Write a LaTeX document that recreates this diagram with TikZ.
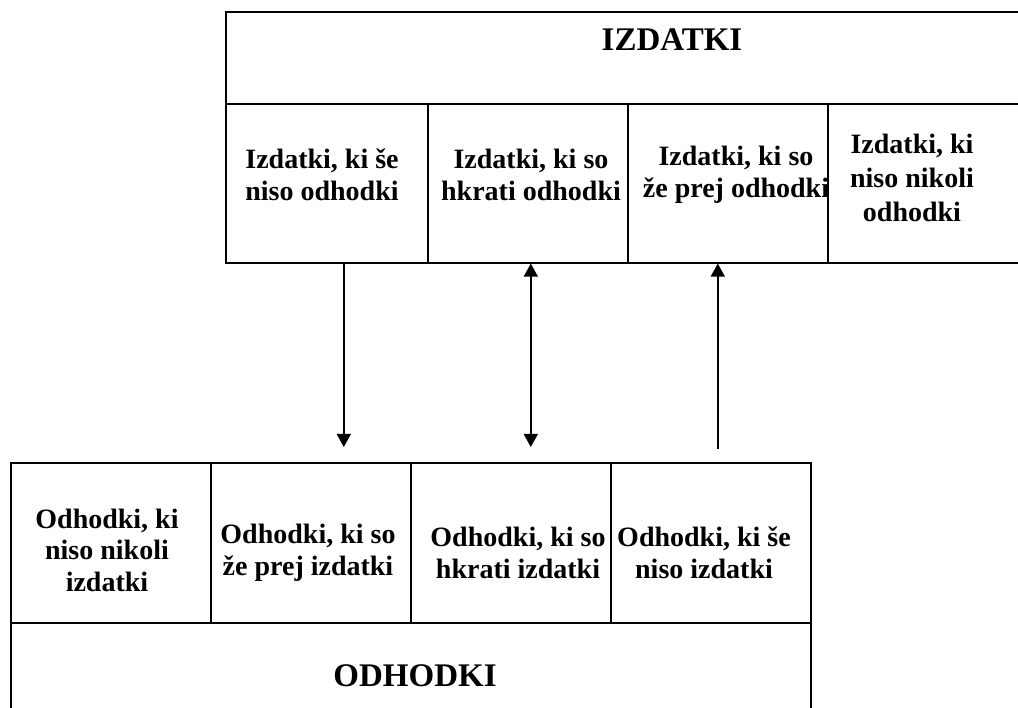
\documentclass[tikz,border=0pt]{standalone}
\usepackage{fontspec}
\setmainfont{Liberation Serif}
\usetikzlibrary{arrows.meta}
\begin{document}
\begin{tikzpicture}[x=1pt,y=-1pt,
  box/.style={draw, line width=1.6pt, inner sep=0pt, anchor=north west},
  celltext/.style={font=\fontsize{28}{31.5}\selectfont\bfseries, align=center, inner sep=0pt},
  headtext/.style={font=\fontsize{33}{38}\selectfont\bfseries, inner sep=0pt},
  arr/.style={line width=1.6pt, -{Triangle[width=14pt,length=13pt]}},
  darr/.style={line width=1.6pt, {Triangle[width=14pt,length=13pt]}-{Triangle[width=14pt,length=13pt]}}
]
\useasboundingbox (0,0) rectangle (1018,708);
\clip (0,0) rectangle (1018,708);
% top block
\node[box, minimum width=896pt, minimum height=92pt] (hdr) at (225,11) {};
\node[box, minimum width=202pt, minimum height=159pt] (t1) at (225,103) {};
\node[box, minimum width=200pt, minimum height=159pt] (t2) at (427,103) {};
\node[box, minimum width=200pt, minimum height=159pt] (t3) at (627,103) {};
\node[box, minimum width=294pt, minimum height=159pt] (t4) at (827,103) {};
\node[headtext] (hl) at (672,40) {IZDATKI};
\node[celltext] (t1l) at (322,175) {Izdatki, ki še\\niso odhodki};
\node[celltext] (t2l) at (531,175) {Izdatki, ki so\\hkrati odhodki};
\node[celltext] (t3l) at (736,175) {Izdatki, ki so\\že prej odhodki};
\node[celltext, font=\fontsize{28}{34}\selectfont\bfseries] (t4l) at (912,178) {Izdatki, ki\\niso nikoli\\odhodki};
% bottom block
\node[box, minimum width=200pt, minimum height=160pt] (b1) at (10,462) {};
\node[box, minimum width=200pt, minimum height=160pt] (b2) at (210,462) {};
\node[box, minimum width=200pt, minimum height=160pt] (b3) at (410,462) {};
\node[box, minimum width=200pt, minimum height=160pt] (b4) at (610,462) {};
\node[box, minimum width=800pt, minimum height=120pt] (ftr) at (10,622) {};
\node[headtext] (fl) at (415,676) {ODHODKI};
\node[celltext] (b1l) at (107,550) {Odhodki, ki\\niso nikoli\\izdatki};
\node[celltext] (b2l) at (308,553) {Odhodki, ki so\\že prej izdatki};
\node[celltext] (b3l) at (518,553) {Odhodki, ki so\\hkrati izdatki};
\node[celltext] (b4l) at (704,553) {Odhodki, ki še\\niso izdatki};
% connectors
\draw[arr, shorten >=15pt] ([xshift=17pt]t1.south) -- ([xshift=33pt]b2.north);
\draw[darr, shorten >=15pt] ([xshift=3pt]t2.south) -- ([xshift=20pt]b3.north);
\draw[arr, shorten <=13pt] ([xshift=7pt]b4.north) -- ([xshift=-10pt]t3.south);
\end{tikzpicture}
\end{document}
